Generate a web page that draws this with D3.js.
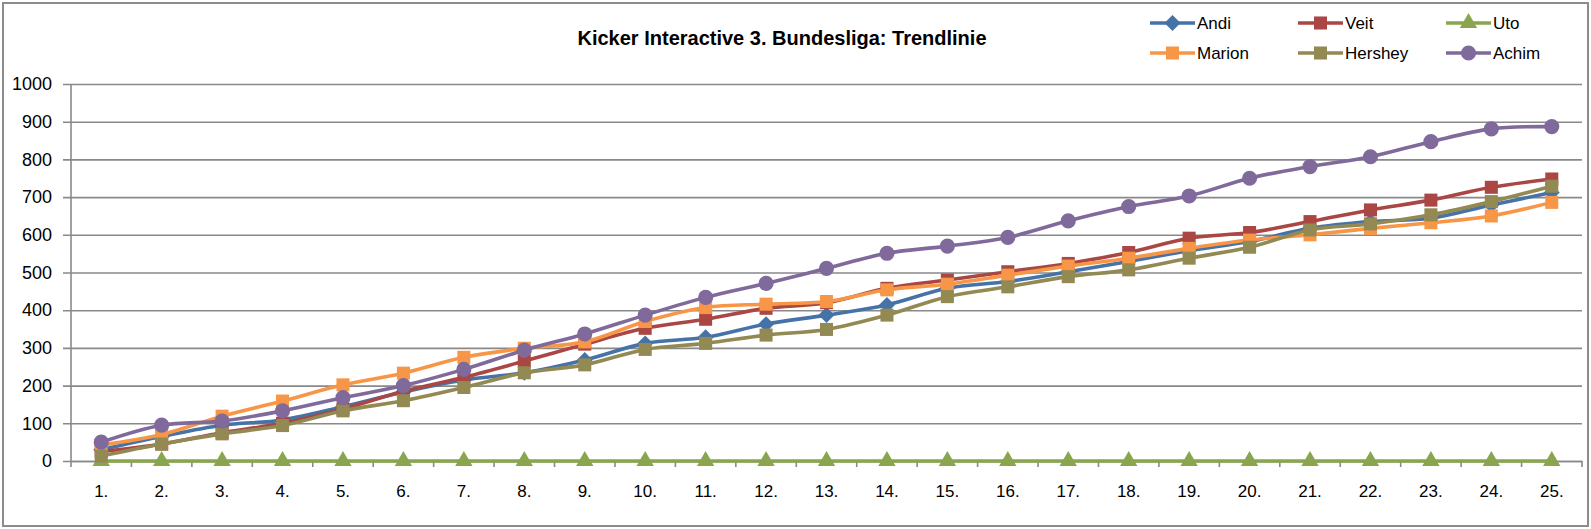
<!DOCTYPE html>
<html>
  <head>
    <meta charset="utf-8">
    <title>Kicker Interactive 3. Bundesliga: Trendlinie</title>
    <style>
      body { margin: 0; background: #fff; }
      text { font-family: "Liberation Sans", Arial, sans-serif; fill: #000; }
    </style>
  </head>
  <body>
    <svg id='chart'></svg>
  </body>
  <script type="text/javascript" src="https://cdn.jsdelivr.net/npm/d3@7"></script>
  <script type="text/javascript">
    // Spieltage
    const rounds = d3.range(1, 26).map(d => d + '.');
    const yTicks = [0, 100, 200, 300, 400, 500, 600, 700, 800, 900, 1000];

    const andi    = [30, 65, 95, 109, 144, 183, 215, 234, 268, 312, 328, 363, 387, 414, 458, 476, 502, 529, 558, 582, 617, 635, 644, 679, 712];
    const veit    = [25, 45, 75, 100, 138, 185, 222, 265, 310, 352, 376, 405, 420, 458, 480, 502, 524, 553, 591, 606, 635, 666, 692, 726, 748];
    const uto     = [0, 0, 0, 0, 0, 0, 0, 0, 0, 0, 0, 0, 0, 0, 0, 0, 0, 0, 0, 0, 0, 0, 0, 0, 0];
    const marion  = [42, 70, 119, 159, 202, 233, 275, 299, 316, 370, 407, 416, 423, 454, 469, 493, 517, 538, 564, 586, 600, 617, 632, 650, 686];
    const hershey = [13, 45, 72, 94, 133, 160, 195, 234, 255, 296, 312, 334, 349, 387, 436, 462, 489, 507, 538, 567, 613, 629, 653, 688, 729];
    const achim   = [50, 95, 106, 133, 168, 200, 243, 294, 337, 387, 434, 471, 511, 551, 570, 593, 637, 675, 703, 750, 781, 807, 847, 881, 887];

    const series = [
      { name: 'Andi',    values: andi,    color: '#4572A7', symbol: 'diamond' },
      { name: 'Veit',    values: veit,    color: '#AA4643', symbol: 'square' },
      { name: 'Uto',     values: uto,     color: '#89A54E', symbol: 'triangle' },
      { name: 'Marion',  values: marion,  color: '#F79646', symbol: 'square' },
      { name: 'Hershey', values: hershey, color: '#938953', symbol: 'square' },
      { name: 'Achim',   values: achim,   color: '#80699B', symbol: 'circle' }
    ];

    const [width, height] = [1591, 529];
    const svg = d3.select('#chart')
      .attr('width', width)
      .attr('height', height);

    // Rahmen
    svg.append('rect')
      .attr('x', 3).attr('y', 3)
      .attr('width', 1585).attr('height', 523)
      .attr('fill', '#fff')
      .attr('stroke', '#8c8c8c')
      .attr('stroke-width', 2);

    const x = d3.scaleBand().domain(rounds).range([71, 1582]);
    const y = d3.scaleLinear().domain([0, 1000]).range([461, 84]);
    const cx = d => x(d) + x.bandwidth() / 2;

    // Gitterlinien + y-Achse
    const yAxis = svg.append('g')
      .attr('transform', 'translate(71,0)')
      .call(d3.axisLeft(y).tickValues(yTicks).tickFormat(d3.format('d'))
        .tickSize(-(1582 - 71)).tickSizeOuter(0).tickPadding(19));
    yAxis.select('.domain').remove();
    yAxis.selectAll('.tick line')
      .attr('x1', -8)
      .attr('stroke', '#898989')
      .attr('stroke-width', 1.6);
    yAxis.selectAll('.tick text')
      .style('font-size', '18px');

    svg.append('line')
      .attr('x1', 71).attr('x2', 71)
      .attr('y1', 84).attr('y2', 461)
      .attr('stroke', '#898989').attr('stroke-width', 1.6);

    // x-Achse
    const xAxis = svg.append('g')
      .attr('transform', 'translate(0,461)')
      .call(d3.axisBottom(x).tickSize(0).tickPadding(24));
    xAxis.select('.domain').attr('stroke', '#898989').attr('stroke-width', 1.6);
    xAxis.selectAll('.tick text').style('font-size', '17px');

    svg.append('g')
      .selectAll('line')
      .data(rounds.concat(['end']))
      .enter()
      .append('line')
      .attr('x1', (d, i) => 71 + i * x.bandwidth())
      .attr('x2', (d, i) => 71 + i * x.bandwidth())
      .attr('y1', 461).attr('y2', 467)
      .attr('stroke', '#898989').attr('stroke-width', 1.6);

    function symbolPath(type) {
      if (type === 'diamond') return 'M0,-8L8,0L0,8L-8,0Z';
      if (type === 'square') return d3.symbol(d3.symbolSquare, 170)();
      if (type === 'triangle') return d3.symbol(d3.symbolTriangle, 130)();
      return d3.symbol(d3.symbolCircle, 180)();
    }

    const line = d3.line()
      .x((d, i) => cx(rounds[i]))
      .y(d => y(d))
      .curve(d3.curveCatmullRom.alpha(0));

    const plot = svg.append('g');
    series.forEach(function(s) {
      const g = plot.append('g');
      g.append('path')
        .attr('d', line(s.values))
        .attr('fill', 'none')
        .attr('stroke', s.color)
        .attr('stroke-width', 3.6)
        .attr('stroke-linejoin', 'round');
      g.selectAll('path.marker')
        .data(s.values)
        .enter()
        .append('path')
        .attr('class', 'marker')
        .attr('d', symbolPath(s.symbol))
        .attr('fill', s.color)
        .attr('transform', (d, i) => 'translate(' + cx(rounds[i]) + ',' + y(d) + ')');
    });

    // Titel
    svg.append('text')
      .attr('x', 782)
      .attr('y', 45)
      .attr('text-anchor', 'middle')
      .style('font-family', '"Liberation Sans Narrow", "Arial Narrow", "Liberation Sans", sans-serif')
      .style('font-weight', 'bold')
      .style('font-size', '20px')
      .text('Kicker Interactive 3. Bundesliga: Trendlinie');

    // Legende
    const legend = svg.append('g')
      .selectAll('g')
      .data(series)
      .enter()
      .append('g')
      .attr('transform', (d, i) => 'translate(' + (1150 + (i % 3) * 148) + ',' + (23 + Math.floor(i / 3) * 30) + ')');
    legend.append('line')
      .attr('x1', 0).attr('x2', 45)
      .attr('stroke', d => d.color)
      .attr('stroke-width', 3.6);
    legend.append('path')
      .attr('d', d => symbolPath(d.symbol))
      .attr('fill', d => d.color)
      .attr('transform', 'translate(22.5,0)');
    legend.append('text')
      .attr('x', 47)
      .attr('dy', '0.35em')
      .style('font-size', '17px')
      .text(d => d.name);
  </script>
</html>
